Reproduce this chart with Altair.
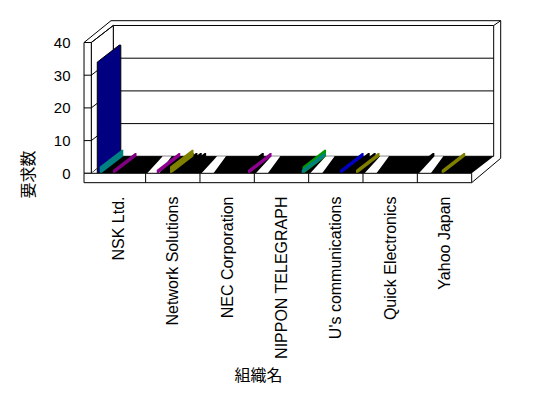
import json
import altair as alt
import pandas as pd

# ---------------------------------------------------------------- data
organizations = ["NSK Ltd.", "Network Solutions", "NEC Corporation",
                 "NIPPON TELEGRAPH", "U's communications",
                 "Quick Electronics", "Yahoo Japan"]

# one entry per visible series bar: organization index, slot inside the
# organization's cluster (0..1), number of requests and series colour
bar_org = [1, 1, 1, 1, 2, 4, 4, 5,
           0, 0, 0, 1, 1, 2, 3, 3, 4, 4, 6]
bar_slot = [0.45, 0.52, 0.60, 0.68, 0.74, 0.69, 0.80, 0.88,
            0.110, 0.155, 0.399, 0.204, 0.448, 0.884, 0.887, 0.872, 0.577, 0.871, 0.448]
bar_value = [1, 1, 1, 1, 1, 1, 1, 1,
             34, 2, 1, 1, 2, 1, 2, 1, 1, 1, 1]
bar_color = ["#000000"] * 8 + ["#000080", "#008080", "#800080", "#900090", "#808000",
                               "#900090", "#009900", "#008080", "#0000C0", "#808000", "#808000"]

y_ticks = [0, 10, 20, 30, 40]

# ------------------------------------------------------- 3-D geometry
N = len(organizations)
DX, DY = 0.405, 5.2          # receding offset (category units, value units)
WALL = 0.134                 # left wall thickness
SLAB = 2.87                  # floor slab thickness
YMAX = 40
BAR_W = 0.028
OUT_X0, OUT_X1, OUT_TOP, OUT_FLOOR = 0.3625, 7.534, 46.67, 4.59


def polygon_rows(pid, verts, fill, stroke="transparent", sw=0.0):
    """Convex polygon -> rows for a vertical area mark (x, y, y2)."""
    xs = sorted(set(round(x, 6) for x, _ in verts))
    rows = []
    n = len(verts)
    for x in xs:
        ys = []
        for i in range(n):
            (x1, y1), (x2, y2) = verts[i], verts[(i + 1) % n]
            if min(x1, x2) - 1e-7 <= x <= max(x1, x2) + 1e-7:
                if abs(x2 - x1) < 1e-9:
                    ys += [y1, y2]
                else:
                    t = (x - x1) / (x2 - x1)
                    ys.append(y1 + t * (y2 - y1))
        rows.append(dict(id=pid, x=x, y=min(ys), y2=max(ys),
                         fill=fill, stroke=stroke, sw=sw))
    return rows


# walls
panels = []
panels += polygon_rows("p00", [(DX, DY), (N + DX, DY), (N + DX, YMAX + DY), (DX, YMAX + DY)],
                       "white", "black", 1)
panels += polygon_rows("p01", [(0, 0), (DX, DY), (DX, YMAX + DY), (0, YMAX)], "white", "black", 1)
panels += polygon_rows("p02", [(-WALL, 0), (0, 0), (0, YMAX), (-WALL, YMAX)], "white", "black", 1)

segs = []
for v in y_ticks[1:-1]:
    segs.append((DX, v + DY, N + DX, v + DY))          # back wall grid
    segs.append((-WALL, v, 0, v))                      # wall front ticks
for v in y_ticks:
    segs.append((0, v, DX, v + DY))                    # side wall grid
segs += [(-WALL, YMAX, OUT_X0, OUT_TOP), (OUT_X0, OUT_TOP, OUT_X1, OUT_TOP),
         (N + DX, YMAX + DY, OUT_X1, OUT_TOP), (OUT_X1, OUT_TOP, OUT_X1, OUT_FLOOR),
         (N, -SLAB, OUT_X1, OUT_FLOOR)]
lines = pd.DataFrame(segs, columns=["x", "y", "x2", "y2"])

# floor top: zero-height bars form a dark band, gaps between clusters
floor = polygon_rows("f00", [(0, 0), (N, 0), (N + DX, DY), (DX, DY)], "black")
for k in range(N):
    if k == 0:
        a0, a1, c0, c1 = 0.0, 0.12, DX, DX + 0.08
    else:
        a0, a1, c0, c1 = 0.028, 0.248, 0.313, 0.478
    floor += polygon_rows(f"f{k + 1:02d}",
                          [(k + a0, 0), (k + a1, 0), (k + c1, DY), (k + c0, DY)], "white")

# series bars
bars = []
for i, (c, s, v, col) in enumerate(zip(bar_org, bar_slot, bar_value, bar_color)):
    x = c + s
    verts = [(x, 0), (x + BAR_W, 0), (x + BAR_W + DX, DY), (x + BAR_W + DX, v + DY),
             (x + DX, v + DY), (x, v)]
    big = v >= 10
    bars += polygon_rows(f"b{i:03d}", verts, col, "black" if big else "transparent",
                         1 if big else 0)

front = polygon_rows("s00", [(-WALL, -SLAB), (N, -SLAB), (N, 0), (-WALL, 0)], "white", "black", 1)
dividers = pd.DataFrame([(k, -SLAB, k, 0) for k in range(1, N)], columns=["x", "y", "x2", "y2"])

# ---------------------------------------------------------- encodings
x_scale = alt.Scale(domain=[-0.20795, 7.6132], nice=False, zero=False)
y_scale = alt.Scale(domain=[-3.578, 48.41], nice=False, zero=False)

label_expr = "[" + ",".join(json.dumps(o) for o in organizations) + "][round(datum.value - 0.5)]"
x_axis = alt.Axis(values=[k + 0.5 for k in range(N)], labelExpr=label_expr, labelAngle=270,
                  domain=False, ticks=False, grid=False, labelPadding=11,
                  labelFont="Liberation Sans", labelFontSize=16, labelColor="black",
                  labelOverlap=False, labelBound=False, labelFlush=False,
                  title="組織名", titleFont="Noto Sans CJK JP", titleFontSize=16,
                  titleFontWeight="normal", titleColor="black",
                  titleX=178, titleY=190.5, titleAlign="center", titleBaseline="middle")
y_axis = alt.Axis(values=y_ticks, domain=False, ticks=False, grid=False, labelPadding=10,
                  labelFont="Liberation Sans", labelFontSize=15, labelColor="black",
                  title="要求数", titleFont="Noto Sans CJK JP", titleFontSize=16,
                  titleFontWeight="normal", titleColor="black", titleAngle=270,
                  titleX=-51.5, titleY=159, titleAlign="center", titleBaseline="middle")


def X():
    return alt.X("x:Q", scale=x_scale, axis=x_axis)


def Y():
    return alt.Y("y:Q", scale=y_scale, axis=y_axis)


def poly_layer(rows):
    return alt.Chart(pd.DataFrame(rows)).mark_area(orient="vertical", interpolate="linear").encode(
        x=X(), y=Y(), y2="y2:Q", detail="id:N",
        color=alt.Color("fill:N", scale=None),
        stroke=alt.Stroke("stroke:N", scale=None),
        strokeWidth=alt.StrokeWidth("sw:Q", scale=None),
    )


def rule_layer(df):
    return alt.Chart(df).mark_rule(color="black", strokeWidth=1).encode(
        x=X(), y=Y(), x2="x2:Q", y2="y2:Q")


chart = alt.layer(
    poly_layer(panels),
    rule_layer(lines),
    poly_layer(floor),
    poly_layer(bars),
    poly_layer(front),
    rule_layer(dividers),
).properties(
    width=425, height=170,
    autosize=alt.AutoSizeParams(type="none"),
    padding={"left": 80, "top": 15, "right": 43, "bottom": 213},
    background="white",
).configure_view(stroke=None)

chart.save("out.html", embed_options={"renderer": "svg", "actions": False})
